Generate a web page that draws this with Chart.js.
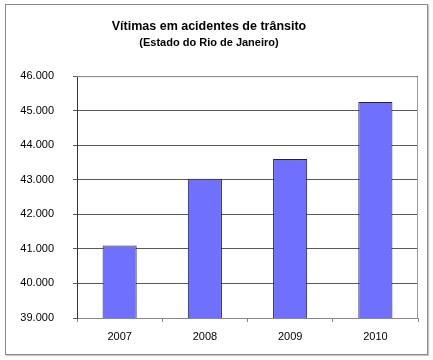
<!DOCTYPE html>
<html>
<head>
<meta charset="utf-8">
<script src="https://cdn.jsdelivr.net/npm/chart.js@4"></script>
<style>
  html, body { margin: 0; padding: 0; background: #fff; }
  #wrap { position: relative; width: 433px; height: 360px; }
  #frame { position: absolute; left: 5px; top: 4px; width: 421px; height: 349px;
           border: 1px solid #8a8a8a; box-shadow: 1px 1px 1px #c8c8c8; }
  canvas { position: absolute; left: 0; top: 0; }
</style>
</head>
<body>
<div id="wrap">
  <div id="frame"></div>
  <canvas id="myChart" width="433" height="360"></canvas>
</div>
<script>
const years = ['2007', '2008', '2009', '2010'];
const victims = [41100, 43030, 43600, 45250];
const yTicks = [39000, 40000, 41000, 42000, 43000, 44000, 45000, 46000];

// outline of the plot area (top + right edges)
const plotBorder = {
  id: 'plotBorder',
  afterDraw(chart) {
    const { ctx, chartArea: a } = chart;
    ctx.save();
    ctx.strokeStyle = '#9a9a9a';
    ctx.lineWidth = 1;
    ctx.beginPath();
    ctx.moveTo(a.left, a.top + 0.5);
    ctx.lineTo(a.right - 0.5, a.top + 0.5);
    ctx.lineTo(a.right - 0.5, a.bottom);
    ctx.stroke();
    ctx.restore();
  }
};

function initChart(target) {
  const data = {
    labels: years,
    datasets: [{
      label: 'Vítimas',
      data: victims,
      backgroundColor: 'rgb(112, 112, 255)',
      borderColor: '#1e1e5a',
      borderWidth: 1,
      categoryPercentage: 1,
      barPercentage: 0.4
    }]
  };

  const config = {
    type: 'bar',
    data: data,
    options: {
      responsive: false,
      animation: false,
      layout: { padding: { left: 0, right: 15, top: 17, bottom: 12 } },
      plugins: {
        legend: { display: false },
        tooltip: { enabled: false },
        title: {
          display: true,
          text: 'Vítimas em acidentes de trânsito',
          color: '#000',
          font: { family: 'Liberation Sans', size: 12.5, weight: 'bold' },
          padding: { top: 2, bottom: 2 }
        },
        subtitle: {
          display: true,
          text: '(Estado do Rio de Janeiro)',
          color: '#000',
          font: { family: 'Liberation Sans', size: 11, weight: 'bold' },
          padding: { top: 0, bottom: 27 }
        }
      },
      scales: {
        x: {
          grid: { display: true, drawOnChartArea: false, tickLength: 4, color: '#888' },
          border: { color: '#888' },
          ticks: { color: '#000', padding: 8, font: { family: 'Liberation Sans', size: 11 } },
          afterFit(scale) { scale.height = 30; }
        },
        y: {
          min: 39000,
          max: 46000,
          afterBuildTicks(scale) { scale.ticks = yTicks.map(v => ({ value: v })); },
          grid: { color: '#5a5a5a', tickLength: 4 },
          border: { color: '#333' },
          ticks: {
            color: '#000',
            padding: 19,
            font: { family: 'Liberation Sans', size: 11 },
            callback: v => v.toLocaleString('de-DE', { minimumFractionDigits: 0 })
          },
          afterFit(scale) { scale.width = 77; }
        }
      }
    },
    plugins: [plotBorder]
  };

  return new Chart(target, config);
}

document.addEventListener('DOMContentLoaded', () => {
  initChart(document.querySelector('#myChart'));
});
</script>
</body>
</html>
